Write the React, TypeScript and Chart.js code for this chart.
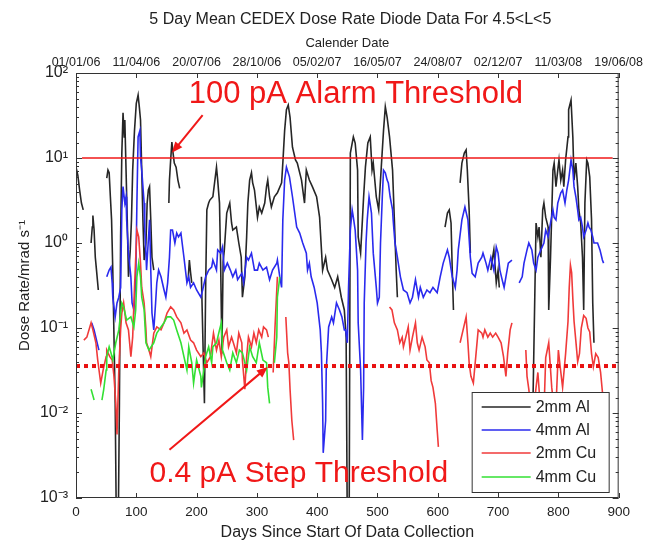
import React, { useEffect, useRef } from 'react';
import { Chart, registerables } from 'chart.js';

Chart.register(...registerables);

const FONT = "'Liberation Sans', Arial, Helvetica, sans-serif";

// ---- tick labels ----
const dateLabels = ['01/01/06', '11/04/06', '20/07/06', '28/10/06', '05/02/07', '16/05/07', '24/08/07', '02/12/07', '11/03/08', '19/06/08'];
const yTickLabels = ['10⁻³', '10⁻²', '10⁻¹', '10⁰', '10¹', '10²'];

// ---- series (day, dose rate mrad/s); null = gap ----
const seriesNames = ['2mm Al', '4mm Al', '2mm Cu', '4mm Cu'];

const al2mm: [number, number | null][] = [
  [0, 7.8], [3, 6.3], [6, 4.2], [9, 2.95], [12, 2.45], [18, null],
  [25, 1.0], [27, 1.54], [28, 2.1], [30, 1.42], [32, 0.68], [34, 0.48], [37, 0.28], [44, null],
  [51, 5.8], [53, 7.2], [55, 6.7], [57, 3.5], [59, 1.87], [61, 0.48], [63, 0.078], [65, 0.013], [67, 0.0004], [70, 0.0004], [72, 0.013], [74, 1.18], [76, 11.4], [78, 34], [80, 17.7], [81, 28], [83, 7.2], [85, 1.87], [87, 0.4], [90, 0.83], [92, 1.87], [94, 7.2], [97, 21], [100, 44], [103, 55], [105, 40], [107, 28], [109, 7.2], [111, 1.87], [113, 0.63], [116, 1.0], [118, 2.95], [120, 4.2], [122, 4.6], [124, 1.87], [126, 0.68], [129, 0.48], [140, null],
  [154, 2.95], [155, 5.5], [157, 9.5], [159, 15.4], [161, 11.4], [163, 8.7], [166, 7.8], [169, 5.5], [172, 4.4], [180, null],
  [186, 0.37], [188, 0.63], [190, 0.45], [192, 0.34], [200, null],
  [208, 0.4], [211, 0.05], [213, 0.013], [215, 0.3], [217, 2.45], [220, 2.95], [222, 3.2], [227, 3.5], [233, 7.8], [235, 5.5], [238, 2.95], [240, 0.5], [242, 0.05], [244, 0.6], [246, 0.83], [250, 2.25], [255, 2.95], [258, 1.72], [260, 1.42], [266, 1.54], [270, 1.0], [274, 0.68], [276, 0.23], [280, 0.4], [283, 1.18], [285, 2.95], [288, 5.5], [291, 6.7], [293, 5.1], [296, 4.2], [301, 2.0], [304, 2.65], [308, 2.25], [313, 2.95], [316, 4.6], [318, 5.5], [321, 3.5], [324, 2.65], [329, 3.5], [334, 3.9], [341, 5.1], [343, 8.7], [346, 21], [349, 37], [352, 42], [355, 30], [359, 13.4], [364, 9.5], [367, 8.7], [374, 5.5], [379, 2.95], [382, 7.2], [387, 5.5], [392, 4.6], [399, 3.5], [404, 2.0], [409, 0.48], [414, 0.68], [417, 0.48], [424, 0.37], [429, 0.3], [434, 0.4], [440, 0.23], [445, 0.163], [448, 0.078], [450, 0.0004], [453, 0.0004], [455, 11.4], [460, 17.7], [463, 15], [467, 7.2], [468, 1.18], [472, 0.76], [475, 1.87], [477, 3.5], [480, 7.8], [484, 15], [488, 17.7], [491, 7.2], [493, 8.7], [498, 3.5], [502, 2.45], [506, 7.2], [510, 21], [513, 40], [516, 30], [520, 17.7], [525, 7.2], [528, 1.87], [531, 0.48], [533, 0.23], [540, null],
  [612, 1.54], [616, 2.25], [619, 2.45], [622, 1.72], [624, 0.48], [626, 0.163], [632, null],
  [637, 5.1], [640, 8.7], [644, 11.4], [647, 12.4], [649, 7.2], [652, 2.45], [654, 0.76], [665, null],
  [688, 0.48], [691, 0.68], [693, 0.83], [697, 0.34], [700, 0.48], [702, 0.3], [720, null],
  [757, 0.006], [763, 1.72], [766, 1.18], [768, 1.54], [771, 0.68], [774, 2.45], [776, 2.95], [779, 2.0], [783, 1.54], [784, 0.163], [787, 0.68], [791, 7.2], [793, 8.7], [796, 4.6], [799, 7.2], [801, 9.5], [804, 5.5], [807, 7.2], [809, 4.6], [812, 9.5], [816, 17.7], [817, 37], [821, 48], [824, 17.7], [826, 5.5], [829, 8.7], [832, 4.6], [834, 2.45], [837, 1.72], [840, 0.68], [842, 0.163], [844, 2.95], [847, 9.5], [849, 8.7], [852, 6.0], [855, 1.87], [857, 0.197], [859, 0.067],
];

const al4mm: [number, number | null][] = [
  [26, 0.115], [30, 0.095], [34, 0.072], [38, 0.055], [45, null],
  [51, 0.4], [55, 0.48], [58, 0.52], [60, 0.34], [61, 0.23], [65, 0.135], [68, 0.197], [71, 0.23], [74, 0.3], [76, 2.45], [78, 4.6], [81, 2.95], [83, 3.5], [84, 1.87], [87, 0.76], [91, 0.4], [93, 0.197], [96, 0.163], [99, 0.34], [101, 2.95], [103, 17.7], [106, 21], [107, 10.3], [109, 7.2], [113, 2.95], [114, 1.42], [116, 0.76], [117, 0.48], [121, 1.42], [122, 1.87], [124, 0.48], [126, 0.15], [129, 0.095], [132, 0.197], [134, 0.34], [137, 0.48], [141, 0.4], [146, 0.28], [149, 0.23], [152, 0.34], [155, 0.68], [157, 1.42], [160, 1.42], [164, 1.0], [167, 1.31], [170, 1.18], [174, 1.31], [179, 0.68], [184, 0.34], [187, 0.4], [190, 0.3], [195, 0.34], [200, 0.28], [207, 0.23], [210, 0.28], [215, 0.4], [220, 0.48], [225, 0.52], [227, 0.63], [233, 0.48], [235, 0.83], [240, 0.76], [243, 0.9], [246, 0.48], [251, 0.58], [256, 0.48], [260, 0.4], [265, 0.48], [268, 0.37], [275, 0.44], [278, 0.34], [283, 0.68], [286, 0.63], [291, 0.76], [296, 0.48], [301, 0.48], [304, 0.58], [310, 0.48], [316, 0.52], [321, 0.37], [326, 0.48], [333, 0.58], [334, 0.63], [338, 0.4], [341, 0.3], [343, 1.87], [346, 5.5], [349, 7.8], [354, 6.0], [359, 3.5], [366, 1.54], [371, 1.31], [376, 1.0], [382, 0.76], [384, 0.48], [387, 0.58], [390, 0.4], [395, 0.3], [400, 0.197], [405, 0.095], [407, 0.051], [409, 0.013], [410, 0.0034], [414, 0.0081], [415, 0.032], [419, 0.103], [424, 0.135], [427, 0.115], [432, 0.197], [437, 0.163], [441, 0.135], [445, 0.095], [447, 0.095], [450, 0.067], [452, 0.3], [455, 1.42], [458, 2.45], [460, 2.0], [463, 1.42], [467, 0.48], [468, 0.115], [472, 0.032], [475, 0.0048], [477, 0.02], [478, 0.197], [481, 1.0], [483, 1.87], [486, 3.5], [490, 2.25], [493, 0.76], [498, 0.3], [500, 0.197], [503, 0.23], [505, 1.0], [508, 3.5], [510, 7.2], [513, 6.7], [516, 5.5], [518, 5.1], [521, 3.5], [525, 2.45], [526, 1.87], [529, 1.0], [533, 0.68], [538, 0.4], [543, 0.28], [549, 0.26], [554, 0.197], [558, 0.23], [563, 0.37], [568, 0.23], [571, 0.3], [576, 0.23], [582, 0.28], [587, 0.26], [592, 0.3], [599, 0.26], [604, 0.4], [609, 0.58], [616, 0.83], [619, 0.68], [624, 0.4], [629, 0.3], [632, 0.48], [634, 0.83], [640, 1.87], [645, 2.65], [650, 1.87], [654, 0.68], [657, 0.44], [662, 0.4], [667, 0.58], [673, 0.68], [675, 0.76], [680, 0.58], [683, 0.48], [688, 0.68], [693, 0.48], [697, 0.9], [700, 0.76], [703, 0.48], [708, 0.34], [710, 0.3], [713, 0.4], [717, 0.58], [723, 0.63], [729, null],
  [735, 0.34], [740, 0.4], [743, 0.58], [748, 0.83], [751, 1.0], [756, 0.83], [759, 0.58], [763, 0.48], [766, 0.68], [771, 0.83], [776, 1.0], [779, 1.42], [783, 1.18], [787, 1.72], [791, 2.45], [793, 2.0], [796, 1.87], [799, 2.95], [804, 3.9], [807, 4.2], [811, 2.95], [814, 4.2], [817, 5.5], [821, 9.5], [824, 7.2], [826, 4.6], [829, 3.5], [832, 2.45], [834, 1.87], [837, 2.0], [840, 1.54], [842, 1.18], [846, 1.42], [849, 1.72], [851, 1.54], [854, 1.42], [857, 1.18], [859, 1.0], [865, 1.0], [869, 0.83], [873, 0.63], [875, 0.58],
];

const cu2mm: [number, number | null][] = [
  [13, 0.072], [18, 0.078], [25, 0.115], [28, 0.095], [33, 0.067], [36, 0.042], [41, 0.0225], [45, 0.032], [50, 0.046], [51, 0.055], [56, 0.046], [60, 0.042], [63, 0.027], [66, 0.013], [68, 0.0056], [71, 0.032], [74, 0.095], [76, 0.15], [79, 0.197], [83, 0.115], [87, 0.095], [91, 0.046], [94, 0.078], [97, 0.3], [101, 1.42], [104, 1.18], [107, 0.58], [109, 0.3], [113, 0.197], [116, 0.095], [117, 0.067], [121, 0.055], [124, 0.046], [129, 0.087], [134, 0.103], [141, 0.095], [146, 0.115], [151, 0.15], [157, 0.177], [162, 0.163], [167, 0.135], [174, 0.115], [179, 0.087], [184, 0.095], [190, 0.072], [195, 0.067], [200, 0.055], [207, 0.046], [212, 0.051], [217, 0.039], [223, 0.046], [225, 0.06], [228, 0.087], [233, 0.055], [237, 0.072], [241, 0.046], [245, 0.078], [250, 0.095], [253, 0.06], [258, 0.078], [261, 0.067], [266, 0.051], [270, 0.087], [275, 0.067], [276, 0.042], [280, 0.019], [283, 0.046], [286, 0.078], [291, 0.06], [295, 0.087], [299, 0.067], [303, 0.095], [308, 0.078], [311, 0.103], [316, 0.095], [319, 0.078], [323, null],
  [327, 0.03], [330, 0.1], [334, 0.4], [337, null],
  [348, 0.135], [351, 0.051], [353, 0.039], [355, 0.019], [358, 0.0081], [361, 0.0048], [370, null],
  [520, 0.177], [524, 0.163], [528, 0.115], [533, 0.095], [537, 0.067], [541, 0.078], [543, 0.06], [547, 0.078], [551, 0.103], [554, 0.055], [558, 0.078], [563, 0.115], [566, 0.067], [569, 0.055], [574, 0.078], [579, 0.06], [582, 0.042], [586, 0.039], [589, 0.024], [592, 0.02], [596, 0.013], [599, 0.0063], [601, 0.004], [615, null],
  [637, 0.067], [642, 0.095], [647, 0.135], [650, 0.067], [652, 0.039], [655, 0.027], [659, 0.0225], [663, 0.046], [667, 0.095], [673, 0.087], [675, 0.078], [678, 0.095], [683, 0.078], [687, 0.087], [691, 0.078], [696, 0.087], [700, 0.078], [705, 0.067], [709, 0.046], [713, 0.027], [716, 0.051], [720, 0.095], [723, 0.115], [735, null],
  [746, 0.055], [748, 0.027], [751, 0.019], [754, 0.012], [757, 0.008], [763, 0.02], [766, 0.03], [770, 0.012], [775, 0.006], [779, 0.045], [784, 0.067], [789, 0.02], [795, 0.008], [800, 0.055], [803, 0.035], [807, 0.02], [812, 0.05], [816, 0.12], [818, 0.3], [820, 0.55], [822, 0.45], [824, 0.22], [826, 0.12], [829, 0.07], [832, 0.04], [835, 0.05], [838, 0.1], [842, 0.14], [846, 0.13], [849, 0.1], [852, 0.09], [855, 0.05], [858, 0.035], [862, 0.05], [866, 0.045], [870, 0.03], [874, 0.015], [877, 0.006],
];

const cu4mm: [number, number | null][] = [
  [25, 0.019], [28, 0.016], [30, 0.0142], [36, null],
  [43, 0.0142], [46, 0.019], [50, 0.032], [51, 0.046], [55, 0.06], [58, 0.051], [61, 0.042], [66, 0.067], [71, 0.095], [76, 0.197], [79, 0.177], [84, 0.124], [91, 0.135], [96, 0.103], [99, 0.163], [101, 0.4], [104, 0.58], [107, 0.4], [109, 0.23], [113, 0.163], [116, 0.067], [121, 0.055], [129, 0.067], [134, 0.087], [141, 0.103], [146, 0.115], [151, 0.135], [157, 0.135], [162, 0.124], [167, 0.095], [174, 0.067], [179, 0.046], [184, 0.032], [187, 0.06], [192, 0.039], [195, 0.0225], [200, 0.042], [207, 0.027], [208, 0.02], [215, 0.046], [220, 0.06], [225, 0.039], [227, 0.06], [233, 0.067], [238, 0.095], [241, 0.115], [243, 0.055], [250, 0.039], [255, 0.032], [260, 0.051], [266, 0.039], [271, 0.055], [276, 0.051], [283, 0.032], [288, 0.06], [293, 0.046], [299, 0.039], [304, 0.067], [310, 0.042], [316, 0.039], [318, 0.02], [321, 0.013], [325, null],
  [329, 0.039], [333, 0.078], [334, 0.23], [338, 0.4],
];

// ---- thresholds ----
const alarmLevel = 10;        // 100 pA alarm threshold
const alarmSpan = [10, 890];
const stepLevel = 0.0357;     // 0.4 pA step threshold
const stepSpan = [0, 900];

// ---- annotations (data coordinates: day, value) ----
const alarmText = { text: '100 pA Alarm Threshold', day: 187, value: 44 };
const alarmArrow = { from: [210, 32], to: [159, 11.5] };
const stepText = { text: '0.4 pA Step Threshold', day: 122, value: 0.00154 };
const stepArrow = { from: [155, 0.0037], to: [318, 0.0348] };

const COLORS = ['#262626', '#2a2aee', '#f03a3a', '#33e033'];
const RED = '#f01818';
const TEXT = '#222';

const toXY = (arr: [number, number | null][]) => arr.map(([x, y]) => ({ x, y }));

function drawArrow(ctx: CanvasRenderingContext2D, x1: number, y1: number, x2: number, y2: number) {
  const a = Math.atan2(y2 - y1, x2 - x1);
  const hl = 11, hw = 4.5;
  const c = Math.cos(a), s = Math.sin(a);
  ctx.beginPath();
  ctx.moveTo(x1, y1);
  ctx.lineTo(x2 - hl * 0.8 * c, y2 - hl * 0.8 * s);
  ctx.stroke();
  ctx.beginPath();
  ctx.moveTo(x2, y2);
  ctx.lineTo(x2 - hl * c + hw * s, y2 - hl * s - hw * c);
  ctx.lineTo(x2 - hl * c - hw * s, y2 - hl * s + hw * c);
  ctx.closePath();
  ctx.fill();
}

const isPow10 = (v: number) => Math.abs(Math.log10(v) - Math.round(Math.log10(v))) < 1e-6;

const decorPlugin = {
  id: 'decor',
  afterDatasetsDraw(chart: any) {
    const { ctx, chartArea, scales } = chart;
    const { left, right, top, bottom } = chartArea;
    const x = scales.x, y = scales.y;
    ctx.save();
    // frame
    ctx.strokeStyle = '#333';
    ctx.lineWidth = 1;
    ctx.strokeRect(left + 0.5, top + 0.5, right - left - 1, bottom - top - 1);
    ctx.beginPath();
    x.ticks.forEach((t: any) => {
      const px = Math.round(x.getPixelForValue(t.value)) + 0.5;
      ctx.moveTo(px, bottom); ctx.lineTo(px, bottom - 5);
      ctx.moveTo(px, top); ctx.lineTo(px, top + 5);
    });
    y.ticks.forEach((t: any) => {
      const py = Math.round(y.getPixelForValue(t.value)) + 0.5;
      const len = isPow10(t.value) ? 6 : 3;
      ctx.moveTo(left, py); ctx.lineTo(left + len, py);
      ctx.moveTo(right, py); ctx.lineTo(right - len, py);
    });
    ctx.stroke();

    // legend
    const bw = 137, bh = 100;
    const bx = right - 10 - bw, by = bottom - 6 - bh;
    ctx.fillStyle = '#fff';
    ctx.fillRect(bx, by, bw, bh);
    ctx.strokeStyle = '#333';
    ctx.strokeRect(bx + 0.5, by + 0.5, bw, bh);
    const rows = [15, 38, 61, 85];
    ctx.font = `16px ${FONT}`;
    ctx.textBaseline = 'middle';
    ctx.textAlign = 'left';
    seriesNames.forEach((name, i) => {
      const ry = by + rows[i];
      ctx.strokeStyle = COLORS[i];
      ctx.lineWidth = 1.4;
      ctx.beginPath();
      ctx.moveTo(bx + 10, ry); ctx.lineTo(bx + 59, ry);
      ctx.stroke();
      ctx.fillStyle = TEXT;
      ctx.fillText(name, bx + 64, ry + 1);
    });
    ctx.restore();
  },
  afterDraw(chart: any) {
    const { ctx, chartArea, scales } = chart;
    const x = scales.x, y = scales.y;
    ctx.save();
    // main title
    ctx.fillStyle = TEXT;
    ctx.font = `16px ${FONT}`;
    ctx.textAlign = 'center';
    ctx.textBaseline = 'middle';
    ctx.fillText('5 Day Mean CEDEX Dose Rate Diode Data For 4.5<L<5', (chartArea.left + chartArea.right) / 2 + 3, 20);

    // annotations
    ctx.fillStyle = RED;
    ctx.strokeStyle = RED;
    ctx.lineWidth = 2;
    ctx.textAlign = 'left';
    ctx.textBaseline = 'alphabetic';
    ctx.font = `31px ${FONT}`;
    ctx.fillText(alarmText.text, x.getPixelForValue(alarmText.day), y.getPixelForValue(alarmText.value));
    ctx.font = `30px ${FONT}`;
    ctx.fillText(stepText.text, x.getPixelForValue(stepText.day), y.getPixelForValue(stepText.value));
    [alarmArrow, stepArrow].forEach((a) => {
      drawArrow(ctx,
        x.getPixelForValue(a.from[0]), y.getPixelForValue(a.from[1]),
        x.getPixelForValue(a.to[0]), y.getPixelForValue(a.to[1]));
    });
    ctx.restore();
  },
};

export default function App() {
  const ref = useRef<HTMLCanvasElement>(null);
  useEffect(() => {
    if (!ref.current) return;
    const seriesData = [al2mm, al4mm, cu2mm, cu4mm];
    const orders = [6, 5, 4, 3];
    const datasets: any[] = seriesData.map((d, i) => ({
      label: seriesNames[i],
      data: toXY(d),
      borderColor: COLORS[i],
      borderWidth: 1.6,
      pointRadius: 0,
      tension: 0,
      spanGaps: false,
      order: orders[i],
      xAxisID: 'x',
      yAxisID: 'y',
    }));
    datasets.push({
      label: 'alarm',
      data: alarmSpan.map((d) => ({ x: d, y: alarmLevel })),
      borderColor: RED,
      borderWidth: 1.5,
      pointRadius: 0,
      order: 1,
      xAxisID: 'x',
      yAxisID: 'y',
    });
    datasets.push({
      label: 'step',
      data: stepSpan.map((d) => ({ x: d, y: stepLevel })),
      borderColor: '#e81010',
      borderWidth: 4,
      borderDash: [4, 4],
      borderCapStyle: 'butt',
      pointRadius: 0,
      order: 2,
      xAxisID: 'x',
      yAxisID: 'y',
    });

    const chart = new Chart(ref.current, {
      type: 'line',
      data: { datasets },
      options: {
        animation: false,
        responsive: false,
        devicePixelRatio: 1,
        layout: { padding: { left: 0, right: 26, top: 0, bottom: 0 } },
        plugins: { legend: { display: false }, tooltip: { enabled: false }, title: { display: false } },
        scales: {
          x: {
            type: 'linear',
            position: 'bottom',
            min: 0,
            max: 900,
            grid: { display: false, drawTicks: false },
            border: { display: false },
            ticks: { stepSize: 100, autoSkip: false, maxRotation: 0, padding: 6, color: TEXT, font: { family: FONT, size: 13.5 } },
            title: { display: true, text: 'Days Since Start Of Data Collection', color: TEXT, font: { family: FONT, size: 16 }, padding: { top: 0, bottom: 0 } },
            afterFit: (s: any) => { s.height = 44; },
          },
          xTop: {
            type: 'linear',
            position: 'top',
            min: 0,
            max: 900,
            grid: { display: false, drawTicks: false },
            border: { display: false },
            ticks: {
              stepSize: 100, autoSkip: false, maxRotation: 0, padding: 3, color: TEXT, font: { family: FONT, size: 12.5 },
              callback: (v: any) => dateLabels[Math.round(Number(v) / 100)] ?? '',
            },
            title: { display: true, text: 'Calender Date', color: TEXT, font: { family: FONT, size: 13 }, padding: { top: 36, bottom: 0 } },
            afterFit: (s: any) => { s.height = 73; },
          },
          y: {
            type: 'logarithmic',
            position: 'left',
            min: 0.001,
            max: 100,
            grid: { display: false, drawTicks: false },
            border: { display: false },
            ticks: {
              autoSkip: false, padding: 8, color: TEXT, font: { family: FONT, size: 16 },
              callback: (v: any) => {
                const n = Number(v);
                return isPow10(n) ? yTickLabels[Math.round(Math.log10(n)) + 3] : '';
              },
            },
            title: { display: true, text: 'Dose Rate/mrad s⁻¹', color: TEXT, font: { family: FONT, size: 15 }, padding: { top: 16, bottom: 0 } },
            afterFit: (s: any) => { s.width = 76; },
          },
        },
      },
      plugins: [decorPlugin],
    } as any);
    return () => chart.destroy();
  }, []);

  return (
    <div style={{ position: 'absolute', left: 0, top: 0, width: 646, height: 542, background: '#fff' }}>
      <canvas ref={ref} width={646} height={542} style={{ display: 'block', width: 646, height: 542 }} />
    </div>
  );
}
